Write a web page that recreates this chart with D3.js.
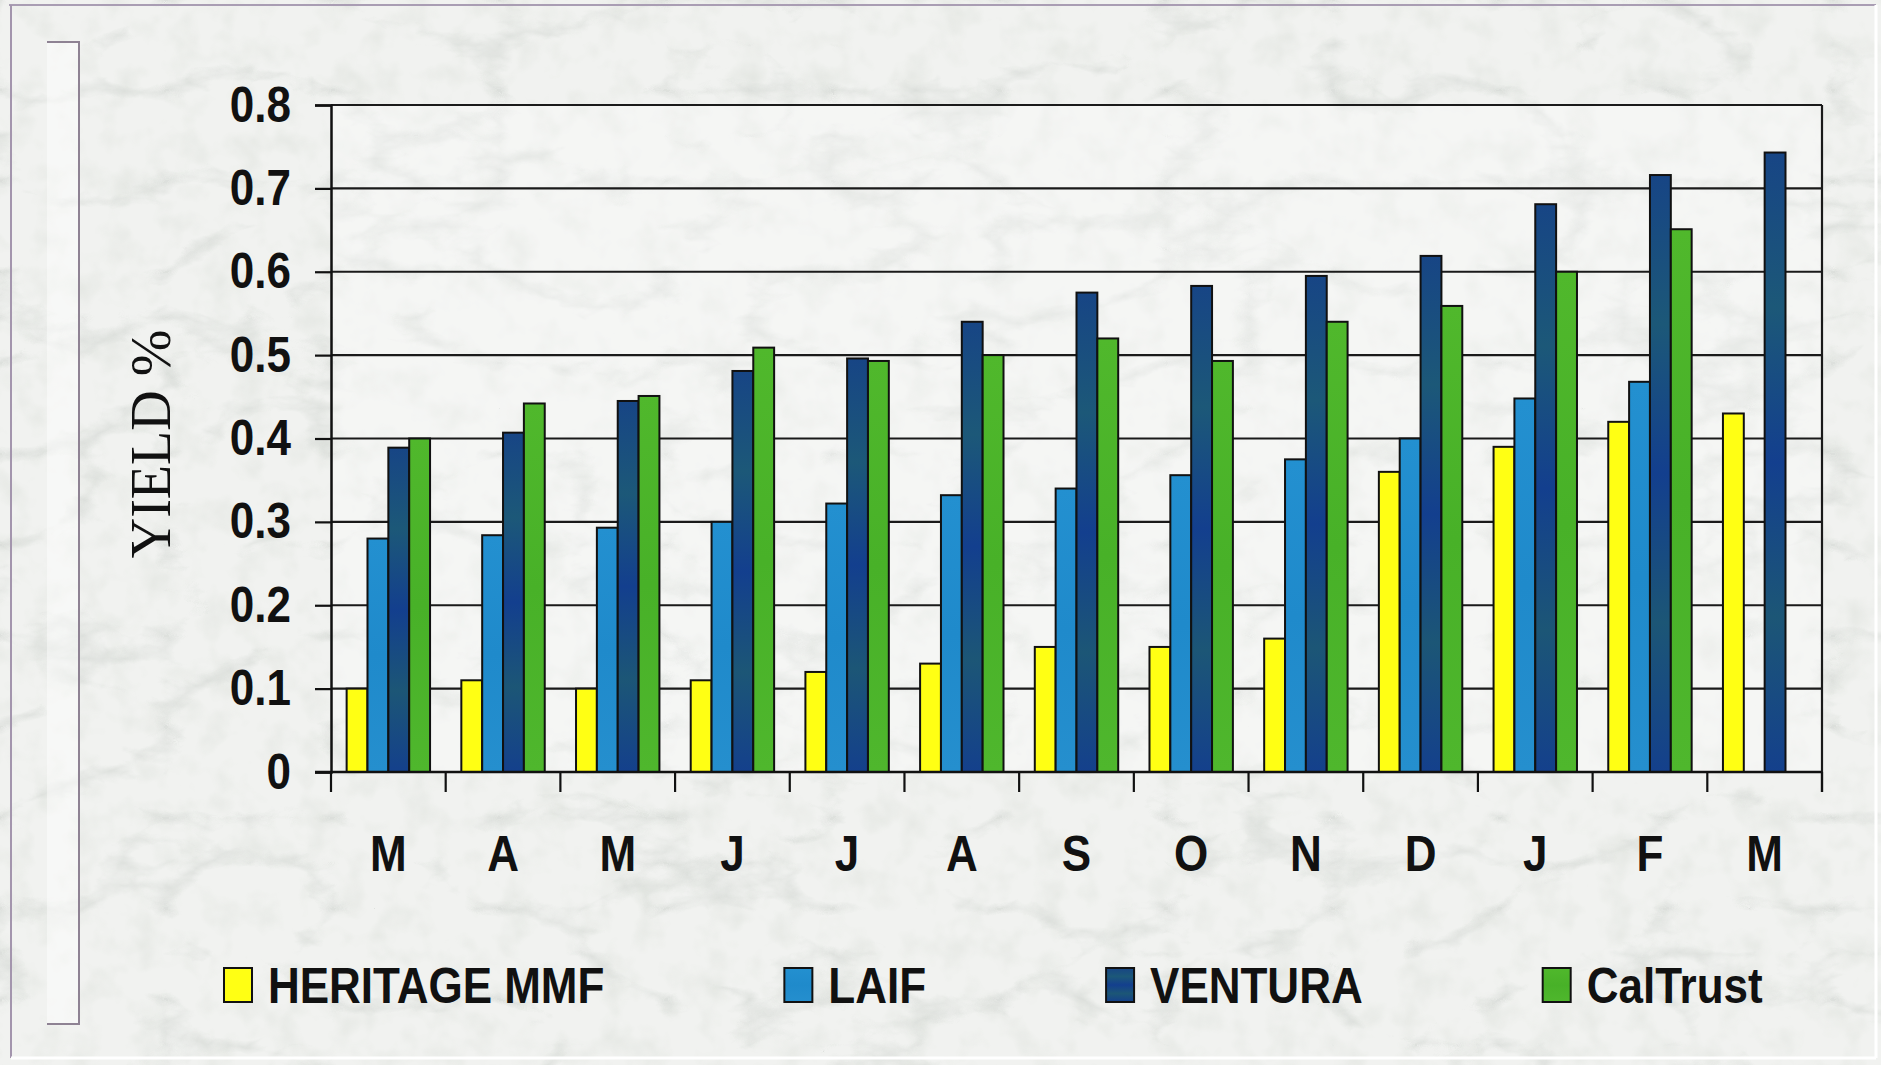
<!DOCTYPE html>
<html>
<head>
<meta charset="utf-8">
<script src="https://cdn.jsdelivr.net/npm/d3@7"></script>
<style>
  body { margin: 0; background: #eeefed; overflow: hidden; }
  text { font-family: "Liberation Sans", Arial, sans-serif; font-weight: bold; fill: #111; }
</style>
</head>
<body>
<div id="chart"></div>
<script>
var width = 1881;
var height = 1065;

// data
var months = ["M", "A", "M", "J", "J", "A", "S", "O", "N", "D", "J", "F", "M"];
var seriesNames = ["HERITAGE MMF", "LAIF", "VENTURA", "CalTrust"];
var heritage = [0.10, 0.11, 0.10, 0.11, 0.12, 0.13, 0.15, 0.15, 0.16, 0.36, 0.39, 0.42, 0.43];
var laif     = [0.28, 0.284, 0.293, 0.30, 0.322, 0.332, 0.34, 0.356, 0.375, 0.40, 0.448, 0.468, null];
var ventura  = [0.389, 0.407, 0.445, 0.481, 0.496, 0.54, 0.575, 0.583, 0.595, 0.619, 0.681, 0.716, 0.743];
var caltrust = [0.40, 0.442, 0.451, 0.509, 0.493, 0.50, 0.52, 0.493, 0.54, 0.559, 0.60, 0.651, null];
var yTicks = [0, 0.1, 0.2, 0.3, 0.4, 0.5, 0.6, 0.7, 0.8];

var seriesValues = [heritage, laif, ventura, caltrust];
var fills = ["#ffff14", "url(#gLaif)", "url(#gVentura)", "url(#gCal)"];
var squeeze = 0.88; // the sans labels look a bit narrow

var plot = { left: 331, right: 1822, top: 105, bottom: 772 };

var svg = d3.select("#chart").append("svg")
    .attr("width", width)
    .attr("height", height);

var defs = svg.append("defs");

// marble-ish texture: thin grey veins where the turbulence is low
var marble = defs.append("filter").attr("id", "marble")
    .attr("x", 0).attr("y", 0).attr("width", "100%").attr("height", "100%");
marble.append("feTurbulence").attr("type", "turbulence")
    .attr("baseFrequency", "0.006 0.011").attr("numOctaves", 5).attr("seed", 11).attr("result", "noise");
marble.append("feColorMatrix").attr("in", "noise").attr("type", "matrix")
    .attr("values", "0 0 0 0 0.6  0 0 0 0 0.63  0 0 0 0 0.6  -3.2 0 0 0 0.75")
    .attr("result", "veins");
marble.append("feComposite").attr("in", "veins").attr("in2", "SourceGraphic").attr("operator", "in");

var mottle = defs.append("filter").attr("id", "mottle")
    .attr("x", 0).attr("y", 0).attr("width", "100%").attr("height", "100%");
mottle.append("feTurbulence").attr("type", "fractalNoise")
    .attr("baseFrequency", "0.03").attr("numOctaves", 3).attr("seed", 3).attr("result", "noise");
mottle.append("feColorMatrix").attr("in", "noise").attr("type", "matrix")
    .attr("values", "0 0 0 0 0.62  0 0 0 0 0.66  0 0 0 0 0.6  -1.6 0 0 0 0.85")
    .attr("result", "spots");
mottle.append("feComposite").attr("in", "spots").attr("in2", "SourceGraphic").attr("operator", "in");

function gradient(id, stops) {
    var g = defs.append("linearGradient").attr("id", id)
        .attr("x1", 0).attr("y1", 0).attr("x2", 0).attr("y2", 1);
    stops.forEach(s => g.append("stop").attr("offset", s[0]).attr("stop-color", s[1]));
}
gradient("gLaif", [[0, "#2390d0"], [0.5, "#1f8acb"], [1, "#258fce"]]);
gradient("gVentura", [[0, "#174585"], [0.25, "#1c5878"], [0.5, "#133f8e"], [0.75, "#1c5676"], [1, "#14408c"]]);
gradient("gCal", [[0, "#50b82c"], [0.5, "#48b128"], [1, "#4fb72d"]]);

// background
svg.append("rect").attr("width", width).attr("height", height).attr("fill", "#f1f2f0");
svg.append("rect").attr("width", width).attr("height", height).attr("fill", "#fff")
    .attr("filter", "url(#mottle)").attr("opacity", 0.45);
svg.append("rect").attr("width", width).attr("height", height).attr("fill", "#fff")
    .attr("filter", "url(#marble)").attr("opacity", 0.7);
svg.append("rect")
    .attr("x", plot.left).attr("y", plot.top)
    .attr("width", plot.right - plot.left).attr("height", plot.bottom - plot.top)
    .attr("fill", "#ffffff").attr("opacity", 0.3);

// frame lines
svg.append("path").attr("d", "M9,5H1876").attr("stroke", "#a99db3").attr("stroke-width", 2).attr("fill", "none");
svg.append("path").attr("d", "M11,5V1058").attr("stroke", "#a395ad").attr("stroke-width", 2).attr("fill", "none");
svg.append("path").attr("d", "M11,1058H1876M1876,5V1058").attr("stroke", "#fff").attr("stroke-width", 3).attr("fill", "none");
svg.append("rect").attr("x", 47).attr("y", 42).attr("width", 32).attr("height", 982)
    .attr("fill", "#fff").attr("opacity", 0.45);
svg.append("path").attr("d", "M47,42H79V1024H47").attr("stroke", "#8e8293").attr("stroke-width", 2).attr("fill", "none");

// scales
var x = d3.scaleBand().domain(d3.range(months.length)).range([plot.left, plot.right]);
var barW = x.bandwidth() / 5.5; // gap width 150%
var xs = d3.scaleBand().domain(d3.range(seriesNames.length))
    .range([barW * 0.75, x.bandwidth() - barW * 0.75]);
var y = d3.scaleLinear().domain([0, 0.8]).range([plot.bottom, plot.top]);

// gridlines
svg.append("g").selectAll("line").data(yTicks.slice(1)).join("line")
    .attr("x1", plot.left).attr("x2", plot.right)
    .attr("y1", d => y(d)).attr("y2", d => y(d))
    .attr("stroke", "#1a1a1a").attr("stroke-width", 2.2);

// right border
svg.append("line").attr("x1", plot.right).attr("x2", plot.right)
    .attr("y1", plot.top).attr("y2", plot.bottom + 20)
    .attr("stroke", "#1a1a1a").attr("stroke-width", 2.2);

// bars
var bars = [];
seriesValues.forEach((vals, s) => {
    vals.forEach((v, i) => { if (v != null) bars.push({ s: s, i: i, v: v }); });
});
svg.append("g").selectAll("rect").data(bars).join("rect")
    .attr("x", d => x(d.i) + xs(d.s))
    .attr("y", d => y(d.v))
    .attr("width", xs.bandwidth())
    .attr("height", d => y(0) - y(d.v))
    .attr("fill", d => fills[d.s])
    .attr("stroke", "#111").attr("stroke-width", 2);

// y axis
var yAxis = svg.append("g").attr("transform", `translate(${plot.left},0)`)
    .call(d3.axisLeft(y).tickValues(yTicks).tickSize(16)
        .tickFormat(d => d === 0 ? "0" : d3.format(".1f")(d)));
yAxis.select(".domain").attr("stroke", "#111").attr("stroke-width", 2.5);
yAxis.selectAll(".tick line").attr("stroke", "#111").attr("stroke-width", 2.2);
yAxis.selectAll(".tick text")
    .attr("x", -40 / squeeze)
    .attr("transform", `scale(${squeeze},1)`)
    .style("font-size", "50px").style("font-weight", "bold")
    .style("font-family", '"Liberation Sans", Arial, sans-serif')
    .attr("fill", "#111");

// x axis: labels at centres, ticks at the group boundaries
var xAxis = svg.append("g").attr("transform", `translate(0,${plot.bottom})`)
    .call(d3.axisBottom(x).tickSize(0).tickFormat(i => months[i]));
xAxis.select(".domain").remove();
xAxis.selectAll(".tick text")
    .attr("y", 99).attr("dy", 0)
    .attr("transform", `scale(${squeeze},1)`)
    .style("font-size", "50px").style("font-weight", "bold")
    .style("font-family", '"Liberation Sans", Arial, sans-serif')
    .attr("fill", "#111");
xAxis.selectAll(".tick").each(function() {
    var t = d3.select(this).attr("transform").match(/translate\(([^,]+)/);
    var cx = +t[1];
    d3.select(this).attr("transform", `translate(0,0)`)
        .select("text").attr("x", cx / squeeze);
});
svg.append("g").selectAll("line").data(d3.range(months.length + 1)).join("line")
    .attr("x1", i => i < months.length ? x(i) : plot.right)
    .attr("x2", i => i < months.length ? x(i) : plot.right)
    .attr("y1", plot.bottom).attr("y2", plot.bottom + 20)
    .attr("stroke", "#111").attr("stroke-width", 2.2);
svg.append("line").attr("x1", plot.left - 16).attr("x2", plot.right)
    .attr("y1", plot.bottom).attr("y2", plot.bottom)
    .attr("stroke", "#111").attr("stroke-width", 2.5);

// y title
svg.append("text")
    .attr("transform", "translate(170,444) rotate(-90)")
    .attr("text-anchor", "middle")
    .style("font-family", '"Liberation Serif", "Times New Roman", serif')
    .style("font-weight", "normal")
    .style("font-size", "56px")
    .text("YIELD %");

// legend, items spread with equal gaps
var legend = svg.append("g");
var lx = 224;
seriesNames.forEach((name, s) => {
    legend.append("rect")
        .attr("x", lx).attr("y", 968).attr("width", 28).attr("height", 34)
        .attr("fill", fills[s]).attr("stroke", "#111").attr("stroke-width", 2);
    var t = legend.append("text")
        .attr("x", (lx + 44) / squeeze).attr("y", 1003)
        .attr("transform", `scale(${squeeze},1)`)
        .style("font-size", "50px")
        .text(name);
    lx = lx + 44 + t.node().getComputedTextLength() * squeeze + 180;
});
</script>
</body>
</html>
